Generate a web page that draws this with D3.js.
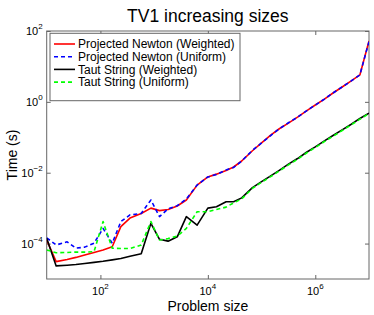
<!DOCTYPE html>
<html><head><meta charset="utf-8">
<script src="https://cdn.jsdelivr.net/npm/d3@7"></script>
<style>
html,body{margin:0;padding:0;background:#fff;}
svg{display:block;font-family:"Liberation Sans",Arial,Helvetica,sans-serif;}
</style></head>
<body><svg id="chart" width="374" height="315"></svg>
<script>
// ---- data ----
const sizes = [10, 15, 24, 35, 51, 76, 112, 166, 240, 355, 575, 871, 1259, 1820, 2692, 3981, 6310,
  10000, 14454, 21878, 30200, 42658, 67608, 100000, 147911, 213796, 316228, 467735, 676083,
  1000000, 1479000, 2138000, 3162000, 4677000, 6761000, 10000000];
const pnWeighted = [1.26e-4, 3.09e-5, 3.55e-5, 4.07e-5, 4.79e-5, 5.62e-5, 6.61e-5, 8.13e-5, 3.02e-4, 5.25e-4,
  7.08e-4, 1.00e-3, 8.51e-4, 9.12e-4, 1.15e-3, 1.70e-3, 4.47e-3, 7.59e-3, 9.12e-3, 1.15e-2, 1.45e-2, 2.14e-2,
  4.17e-2, 6.92e-2, 0.115, 0.174, 0.251, 0.372, 0.550, 0.813, 1.20, 1.78, 2.63, 3.89, 5.75, 52.5];
const pnUniform = [1.45e-4, 9.12e-5, 1.12e-4, 7.41e-5, 7.94e-5, 1.02e-4, 2.69e-4, 1.02e-4, 4.17e-4, 6.46e-4,
  7.08e-4, 1.70e-3, 5.75e-4, 9.55e-4, 1.17e-3, 1.82e-3, 4.47e-3, 7.59e-3, 8.91e-3, 1.20e-2, 1.41e-2, 2.14e-2,
  4.27e-2, 6.92e-2, 0.112, 0.174, 0.257, 0.372, 0.550, 0.813, 1.20, 1.78, 2.63, 3.89, 5.75, 50.1];
const tsWeighted = [1.41e-4, 2.34e-5, 2.45e-5, 2.57e-5, 2.75e-5, 2.95e-5, 3.16e-5, 3.47e-5, 3.80e-5, 4.37e-5,
  5.13e-5, 3.72e-4, 1.32e-4, 1.17e-4, 1.55e-4, 5.75e-4, 3.31e-4, 1.00e-3, 1.10e-3, 1.51e-3, 1.51e-3, 1.95e-3,
  3.80e-3, 5.62e-3, 8.13e-3, 1.17e-2, 1.74e-2, 2.51e-2, 3.72e-2, 5.37e-2, 7.94e-2, 0.112, 0.162, 0.234, 0.339, 0.479];
const tsUniform = [6.61e-5, 5.50e-5, 5.62e-5, 5.75e-5, 5.75e-5, 5.89e-5, 4.17e-4, 7.41e-5, 7.24e-5, 7.24e-5,
  9.12e-5, 4.17e-4, 1.26e-4, 1.38e-4, 1.62e-4, 2.69e-4, 7.94e-4, 7.94e-4, 9.12e-4, 1.07e-3, 1.41e-3, 1.82e-3,
  3.63e-3, 5.37e-3, 7.76e-3, 1.12e-2, 1.66e-2, 2.40e-2, 3.55e-2, 5.13e-2, 7.59e-2, 0.107, 0.155, 0.224, 0.324, 0.468];
const seriesNames = ["Projected Newton (Weighted)", "Projected Newton (Uniform)", "Taut String (Weighted)", "Taut String (Uniform)"];
const xTicks = [1e2, 1e4, 1e6];
const yTicks = [1e-4, 1e-2, 1e0, 1e2];
const xDomain = [10, 1e7];
const yDomain = [1e-5, 1e2];
const titleText = "TV1 increasing sizes";
const xLabel = "Problem size";
const yLabel = "Time (s)";

// ---- styling ----
const styles = [
  {color: "#ff0000", dash: null},
  {color: "#0000ff", dash: "4,3"},
  {color: "#000000", dash: null},
  {color: "#00ff00", dash: "4,3"}
];
const seriesData = [pnWeighted, pnUniform, tsWeighted, tsUniform];

const svg = d3.select("#chart");
const m = {left: 46.7, right: 369, top: 31, bottom: 279};
const x = d3.scaleLog().domain(xDomain).range([m.left, m.right]);
const y = d3.scaleLog().domain(yDomain).range([m.bottom, m.top]);
const axisColor = "#666666";

svg.append("defs").append("clipPath").attr("id", "clip")
  .append("rect").attr("x", m.left).attr("y", m.top)
  .attr("width", m.right - m.left).attr("height", m.bottom - m.top);

// axes ticks (inward, MATLAB style) on all four sides
const tl = 4;
function styleAxis(g){
  g.select(".domain").remove();
  g.selectAll(".tick line").attr("stroke", axisColor);
  g.selectAll(".tick text").remove();
}
svg.append("g").attr("transform", `translate(0,${m.bottom})`)
  .call(d3.axisBottom(x).tickValues(xTicks).tickSize(-tl)).call(styleAxis);
svg.append("g").attr("transform", `translate(0,${m.top})`)
  .call(d3.axisTop(x).tickValues(xTicks).tickSize(-tl)).call(styleAxis);
svg.append("g").attr("transform", `translate(${m.left},0)`)
  .call(d3.axisLeft(y).tickValues(yTicks).tickSize(-tl)).call(styleAxis);
svg.append("g").attr("transform", `translate(${m.right},0)`)
  .call(d3.axisRight(y).tickValues(yTicks).tickSize(-tl)).call(styleAxis);

// frame
svg.append("rect").attr("x", m.left).attr("y", m.top)
  .attr("width", m.right - m.left).attr("height", m.bottom - m.top)
  .attr("fill", "none").attr("stroke", axisColor).attr("stroke-width", 1);

// tick labels with superscripts
const expOf = v => Math.round(Math.log10(v));
xTicks.forEach(v => {
  const t = svg.append("text").attr("x", x(v)).attr("y", m.bottom + 16)
    .attr("text-anchor", "middle").attr("font-size", 11).attr("fill", "#000");
  t.append("tspan").text("10");
  t.append("tspan").attr("dy", -6).attr("font-size", 8).text(expOf(v));
});
yTicks.forEach(v => {
  const t = svg.append("text").attr("x", m.left - 4).attr("y", y(v) + 4)
    .attr("text-anchor", "end").attr("font-size", 11).attr("fill", "#000");
  t.append("tspan").text("10");
  const e = expOf(v);
  t.append("tspan").attr("dy", -6).attr("font-size", 8).text(e < 0 ? "\u2212" + (-e) : e);
});

// lines
const line = d3.line().x((d, i) => x(sizes[i])).y(d => y(d));
const plot = svg.append("g").attr("clip-path", "url(#clip)");
seriesData.forEach((s, k) => {
  plot.append("path").datum(s).attr("d", line)
    .attr("fill", "none").attr("stroke", styles[k].color)
    .attr("stroke-width", 1.6)
    .attr("stroke-dasharray", styles[k].dash)
    .attr("stroke-linejoin", "round");
});

// legend
const lg = svg.append("g");
const lx = 50, ly = 33.3, lw = 190, lh = 67.4;
lg.append("rect").attr("x", lx).attr("y", ly).attr("width", lw).attr("height", lh)
  .attr("fill", "#fff").attr("stroke", axisColor).attr("stroke-width", 1);
seriesNames.forEach((n, k) => {
  const yy = ly + 10.7 + k * 12.7;
  lg.append("line").attr("x1", lx + 4).attr("x2", lx + 25).attr("y1", yy).attr("y2", yy)
    .attr("stroke", styles[k].color).attr("stroke-width", 1.6)
    .attr("stroke-dasharray", styles[k].dash);
  lg.append("text").attr("x", lx + 28).attr("y", yy + 4.2).attr("font-size", 12)
    .attr("fill", "#000").text(n);
});

// title & axis labels
svg.append("text").attr("x", (m.left + m.right) / 2).attr("y", 22)
  .attr("text-anchor", "middle").attr("font-size", 17.5).attr("fill", "#000").text(titleText);
svg.append("text").attr("x", (m.left + m.right) / 2).attr("y", 311)
  .attr("text-anchor", "middle").attr("font-size", 14).attr("fill", "#000").text(xLabel);
svg.append("text").attr("transform", `translate(17,${(m.top + m.bottom) / 2}) rotate(-90)`)
  .attr("text-anchor", "middle").attr("font-size", 14).attr("fill", "#000").text(yLabel);
</script></body></html>
